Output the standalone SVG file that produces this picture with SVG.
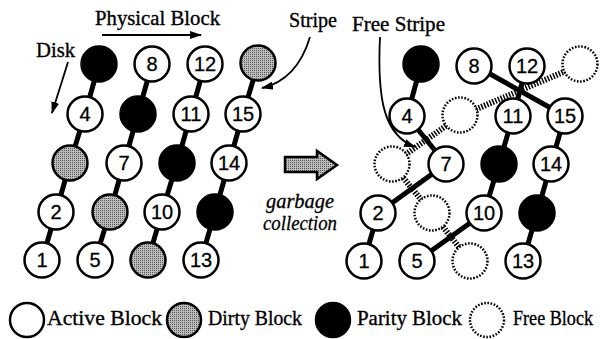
<svg xmlns="http://www.w3.org/2000/svg" width="605" height="339" viewBox="0 0 605 339">
<style>
.a{fill:#fff;stroke:#000;stroke-width:2.5}
.d{fill:url(#dots);stroke:#000;stroke-width:2.5}
.p{fill:#000;stroke:#000;stroke-width:2.5}
.f{fill:#fff;stroke:#000;stroke-width:2.5;stroke-dasharray:1.6 1.6}
.c{fill:none;stroke:#000;stroke-width:5}
.h{fill:none;stroke:#000;stroke-width:6;stroke-dasharray:1.5 1.5}
.ar{fill:none;stroke:#000;stroke-width:1.8}
.n{font-family:"Liberation Sans",Arial,sans-serif;font-size:20px;text-anchor:middle;stroke:#000;stroke-width:0.3}
.t{font-family:"Liberation Serif","Times New Roman",serif;font-size:21px;stroke:#000;stroke-width:0.35}
.i{font-family:"Liberation Serif","Times New Roman",serif;font-size:20px;font-style:italic;text-anchor:middle;stroke:#000;stroke-width:0.3}
</style>
<defs>
<pattern id="dots" width="2" height="2" patternUnits="userSpaceOnUse">
<rect width="2" height="2" fill="#bcbcbc"/>
<rect width="1" height="1" fill="#555"/>
</pattern>
<marker id="ah" markerUnits="userSpaceOnUse" markerWidth="12" markerHeight="8" refX="11" refY="4" orient="auto">
<path d="M0,0 L12,4 L0,8 z" fill="#000"/>
</marker>
</defs>

<g id="labels">
<text class="t" x="95" y="25" textLength="125" lengthAdjust="spacingAndGlyphs">Physical Block</text>
<text class="t" x="36" y="57" textLength="39" lengthAdjust="spacingAndGlyphs">Disk</text>
<text class="t" x="289" y="27" textLength="48" lengthAdjust="spacingAndGlyphs">Stripe</text>
<text class="t" x="352" y="31" textLength="93" lengthAdjust="spacingAndGlyphs">Free Stripe</text>
<text class="i" x="300" y="208" textLength="68" lengthAdjust="spacingAndGlyphs">garbage</text>
<text class="i" x="300" y="230" textLength="74" lengthAdjust="spacingAndGlyphs">collection</text>
</g>

<g id="connectors">
<line class="ar" x1="102" y1="35" x2="201" y2="35" marker-end="url(#ah)"/>
<line class="ar" x1="68" y1="62" x2="52" y2="113" marker-end="url(#ah)"/>
<path class="ar" d="M310,37 Q297,80 262,88" marker-end="url(#ah)"/>
<path class="ar" d="M380,37 C377,100 384,135 415,147" marker-end="url(#ah)"/>
<path d="M285,157 H317 V151 L337,165 L317,179 V172 H285 Z" fill="url(#dots)" stroke="#000" stroke-width="2.5" stroke-linejoin="miter"/>
<polyline class="c" points="99,64 85,114 70,163 56,212 42,260"/>
<polyline class="c" points="152,64 138,114 124,163 110,212 95,260"/>
<polyline class="c" points="205,64 191,114 177,163 162,212 148,260"/>
<polyline class="c" points="258,64 243,114 229,163 215,212 201,260"/>
<polyline class="h" points="470,261 432,213 392,164 460,116 580,65"/>
<polyline class="c" points="421,65 407,116 446,164 378,213 364,261"/>
<line class="c" x1="474" y1="65" x2="565" y2="116"/>
<polyline class="c" points="527,65 513,116 499,164 484,213 417,261"/>
<polyline class="c" points="565,116 551,164 537,213 523,261"/>
</g>

<g id="left-disk1">
<circle id="L-p0" class="p" cx="99" cy="64" r="17.5"/>
<g id="L-4"><circle class="a" cx="85" cy="114" r="17.5"/><text class="n" x="85" y="121">4</text></g>
<circle id="L-d3" class="d" cx="70" cy="163" r="17.5"/>
<g id="L-2"><circle class="a" cx="56" cy="212" r="17.5"/><text class="n" x="56" y="219">2</text></g>
<g id="L-1"><circle class="a" cx="42" cy="260" r="17.5"/><text class="n" x="42" y="267">1</text></g>
</g>
<g id="left-disk2">
<g id="L-8"><circle class="a" cx="152" cy="64" r="17.5"/><text class="n" x="152" y="71">8</text></g>
<circle id="L-p1" class="p" cx="138" cy="114" r="17.5"/>
<g id="L-7"><circle class="a" cx="124" cy="163" r="17.5"/><text class="n" x="124" y="170">7</text></g>
<circle id="L-d6" class="d" cx="110" cy="212" r="17.5"/>
<g id="L-5"><circle class="a" cx="95" cy="260" r="17.5"/><text class="n" x="95" y="267">5</text></g>
</g>
<g id="left-disk3">
<g id="L-12"><circle class="a" cx="205" cy="64" r="17.5"/><text class="n" x="205" y="71">12</text></g>
<g id="L-11"><circle class="a" cx="191" cy="114" r="17.5"/><text class="n" x="191" y="121">11</text></g>
<circle id="L-p2" class="p" cx="177" cy="163" r="17.5"/>
<g id="L-10"><circle class="a" cx="162" cy="212" r="17.5"/><text class="n" x="162" y="219">10</text></g>
<circle id="L-d9" class="d" cx="148" cy="260" r="17.5"/>
</g>
<g id="left-disk4">
<circle id="L-d16" class="d" cx="258" cy="63" r="17.5"/>
<g id="L-15"><circle class="a" cx="243" cy="114" r="17.5"/><text class="n" x="243" y="121">15</text></g>
<g id="L-14"><circle class="a" cx="229" cy="163" r="17.5"/><text class="n" x="229" y="170">14</text></g>
<circle id="L-p3" class="p" cx="215" cy="212" r="17.5"/>
<g id="L-13"><circle class="a" cx="201" cy="260" r="17.5"/><text class="n" x="201" y="267">13</text></g>
</g>

<g id="right-disk1">
<circle id="R-p0" class="p" cx="421" cy="64" r="17.5"/>
<g id="R-4"><circle class="a" cx="407" cy="116" r="17.5"/><text class="n" x="407" y="123">4</text></g>
<circle id="R-f3" class="f" cx="392" cy="164" r="17.5"/>
<g id="R-2"><circle class="a" cx="378" cy="213" r="17.5"/><text class="n" x="378" y="220">2</text></g>
<g id="R-1"><circle class="a" cx="364" cy="261" r="17.5"/><text class="n" x="364" y="268">1</text></g>
</g>
<g id="right-disk2">
<g id="R-8"><circle class="a" cx="474" cy="66" r="17.5"/><text class="n" x="474" y="73">8</text></g>
<circle id="R-f6" class="f" cx="460" cy="115" r="17.5"/>
<g id="R-7"><circle class="a" cx="446" cy="164" r="17.5"/><text class="n" x="446" y="171">7</text></g>
<circle id="R-f9" class="f" cx="432" cy="213" r="17.5"/>
<g id="R-5"><circle class="a" cx="417" cy="261" r="17.5"/><text class="n" x="417" y="268">5</text></g>
</g>
<g id="right-disk3">
<g id="R-12"><circle class="a" cx="527" cy="66" r="17.5"/><text class="n" x="527" y="73">12</text></g>
<g id="R-11"><circle class="a" cx="513" cy="116" r="17.5"/><text class="n" x="513" y="123">11</text></g>
<circle id="R-p2" class="p" cx="499" cy="164" r="17.5"/>
<g id="R-10"><circle class="a" cx="484" cy="213" r="17.5"/><text class="n" x="484" y="220">10</text></g>
<circle id="R-f12" class="f" cx="470" cy="261" r="17.5"/>
</g>
<g id="right-disk4">
<circle id="R-f16" class="f" cx="580" cy="64" r="17.5"/>
<g id="R-15"><circle class="a" cx="565" cy="116" r="17.5"/><text class="n" x="565" y="123">15</text></g>
<g id="R-14"><circle class="a" cx="551" cy="164" r="17.5"/><text class="n" x="551" y="171">14</text></g>
<circle id="R-p3" class="p" cx="537" cy="213" r="17.5"/>
<g id="R-13"><circle class="a" cx="523" cy="261" r="17.5"/><text class="n" x="523" y="268">13</text></g>
</g>

<g id="legend">
<g id="leg-active"><circle class="a" cx="27" cy="320" r="17"/><text class="t" x="47" y="325" textLength="115" lengthAdjust="spacingAndGlyphs">Active Block</text></g>
<g id="leg-dirty"><circle class="d" cx="184" cy="320" r="17"/><text class="t" x="208" y="325" textLength="94" lengthAdjust="spacingAndGlyphs">Dirty Block</text></g>
<g id="leg-parity"><circle class="p" cx="333" cy="320" r="17"/><text class="t" x="357" y="325" textLength="105" lengthAdjust="spacingAndGlyphs">Parity Block</text></g>
<g id="leg-free"><circle class="f" cx="487" cy="320" r="17"/><text class="t" x="513" y="325" textLength="80" lengthAdjust="spacingAndGlyphs">Free Block</text></g>
</g>
</svg>
